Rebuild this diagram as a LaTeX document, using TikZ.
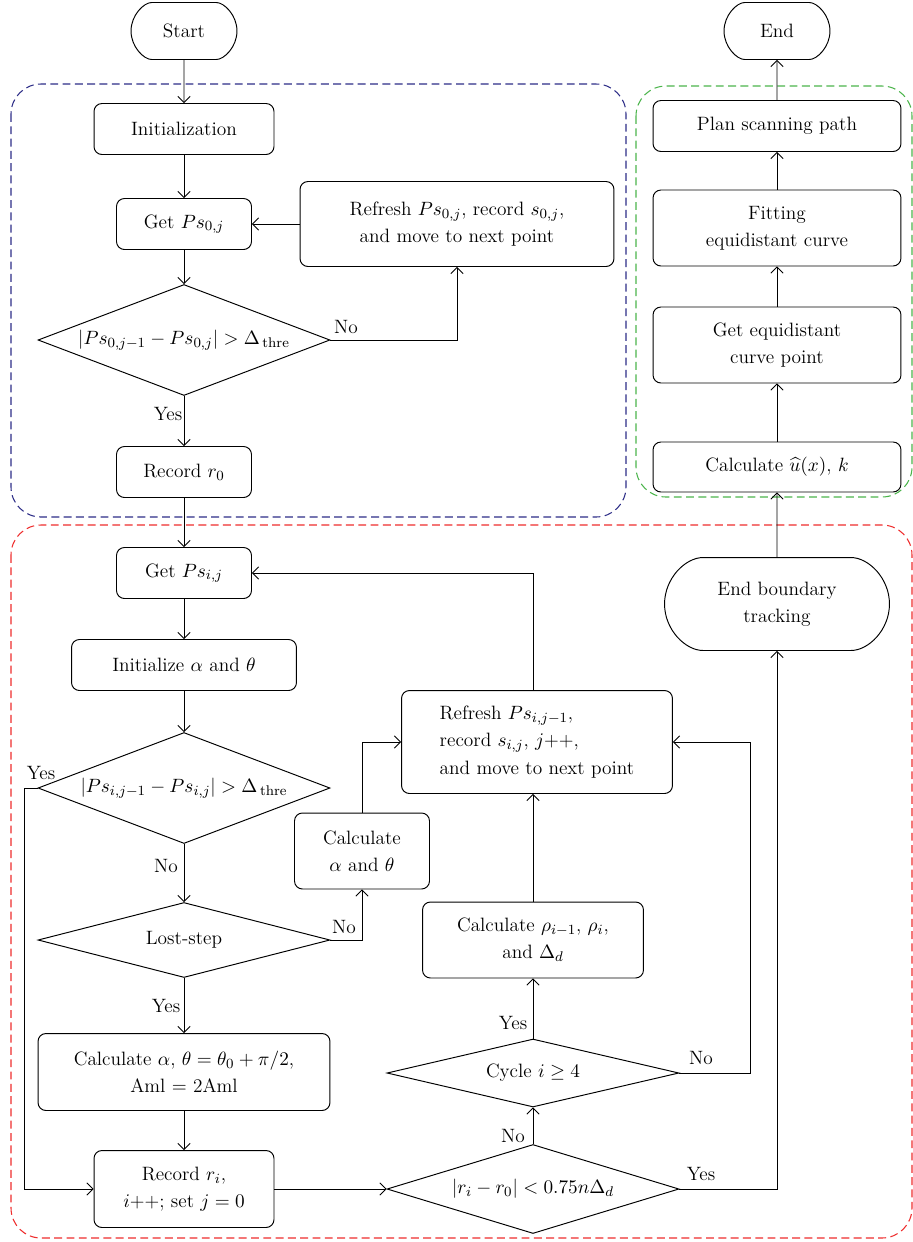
\documentclass[tikz,border=0pt]{standalone}
\usepackage{amsmath}
\usepackage{xcolor}
\usepackage{tikz}
\usetikzlibrary{positioning, shapes.geometric, shapes.misc, arrows.meta}
\definecolor{initcol}{RGB}{45,45,135}
\definecolor{trackcol}{RGB}{238,45,45}
\definecolor{pathcol}{RGB}{75,180,75}

\begin{document}
\begin{tikzpicture}[
    x=0.02cm, y=-0.02cm,
    >={Straight Barb[length=3.5pt, width=7pt]},
    %% ── Base node style ──
    box/.style={
        rectangle, draw, line width=0.55pt, rounded corners=4.5pt,
        align=center, font=\fontsize{11}{15.5}\selectfont, inner sep=2pt
    },
    %% ── Specialized styles ──
    terminal/.style={box, rounded rectangle, minimum width=2.26cm, minimum height=1.14cm},
    process/.style={box, minimum width=2.7cm, minimum height=1.02cm},
    decision/.style={box, diamond, rounded corners=0pt, inner sep=0pt,
        minimum width=5.84cm},
    greenbox/.style={box, minimum width=4.96cm},
    %% ── Arrow / label styles ──
    flow/.style={->, line width=0.5pt},
    lbl/.style={font=\fontsize{11}{13}\selectfont, inner sep=1pt},
    zone/.style={dashed, dash pattern=on 4.5pt off 2.5pt, line width=0.6pt,
        rounded corners=0.6cm},
]
\useasboundingbox (0,0) rectangle (913,1242);

% ── Dashed zones ──
\draw[zone, draw=initcol]   (11,84)  rectangle (626,517);
\draw[zone, draw=pathcol]   (636,86) rectangle (912,497);
\draw[zone, draw=trackcol]  (11,525) rectangle (912,1238);

% ── Zone 1 · Initial point ──
\node[terminal] (start) at (184,31) {Start};
\node[process, minimum width=3.6cm] (init) at (184,129) {Initialization};
\node[process] (getzero) at (184,224) {Get $Ps_{0,j}$};
\node[process, minimum width=6.28cm, minimum height=1.7cm] (refzero) at (457,224)
    {Refresh $Ps_{0,j}$, record $s_{0,j}$,\\ and move to next point};
\node[decision, shape aspect=2.63, minimum height=2.22cm] (diazero) at (184,340)
    {$|Ps_{0,j-1}-Ps_{0,j}| > \Delta_{\,\mathrm{thre}}$};
\node[process] (reczero) at (184,472) {Record $r_0$};

% ── Zone 2 · Boundary tracking ──
\node[process] (getij) at (184,573) {Get $Ps_{i,j}$};
\node[process, minimum width=4.5cm] (initang) at (184,665) {Initialize $\alpha$ and $\theta$};
\node[decision, shape aspect=2.63, minimum height=2.22cm] (diaij) at (184,788)
    {$|Ps_{i,j-1}-Ps_{i,j}| > \Delta_{\,\mathrm{thre}}$};
\node[decision, shape aspect=3.9, minimum height=1.5cm] (lost) at (184,940) {Lost-step};
\node[process, minimum height=1.52cm] (calcang) at (362,851) {Calculate\\ $\alpha$ and $\theta$};
\node[process, minimum width=5.84cm, minimum height=1.54cm] (calclost) at (184,1072)
    {Calculate $\alpha$, $\theta=\theta_0+\pi/2$,\\ Aml $=$ 2Aml};
\node[process, minimum width=3.6cm, minimum height=1.54cm] (recri) at (184,1189)
    {Record $r_i$,\\ $i$++; set $j=0$};
\node[decision, shape aspect=3.28, minimum height=1.78cm] (diaclose) at (533,1189)
    {$|r_i-r_0| < 0.75n\Delta_d$};
\node[decision, shape aspect=4.3, minimum height=1.36cm] (cycle) at (533,1073) {Cycle $i \geq 4$};
\node[process, minimum width=4.42cm, minimum height=1.52cm] (calcrho) at (533,940)
    {Calculate $\rho_{i-1}$, $\rho_i$,\\ and $\Delta_d$};
\node[process, align=left, minimum width=5.42cm, minimum height=2.06cm] (refij) at (537,742)
    {Refresh $Ps_{i,j-1}$,\\ record $s_{i,j}$, $j$++,\\ and move to next point};
\node[terminal, minimum width=4.64cm, minimum height=1.86cm] (endtrack) at (777,604)
    {End boundary\\ tracking};

% ── Zone 3 · Scanning path ──
\node[greenbox, minimum height=1.0cm] (calcu) at (777,467) {Calculate $\widehat{u}(x)$, $k$};
\node[greenbox, minimum height=1.52cm] (getequi) at (777,345) {Get equidistant\\ curve point};
\node[greenbox, minimum height=1.52cm] (fitequi) at (777,228) {Fitting\\ equidistant curve};
\node[greenbox, minimum height=1.02cm] (plan) at (777,126) {Plan scanning path};
\node[terminal] (end) at (777,31) {End};

% ── Branch labels ──
\node[lbl] (nozero)   at (346,327)  {No};
\node[lbl] (yeszero)  at (168,414)  {Yes};
\node[lbl] (yesij)    at (41,773)   {Yes};
\node[lbl] (noij)     at (166,866)  {No};
\node[lbl] (nolost)   at (344,927)  {No};
\node[lbl] (yeslost)  at (166,1006) {Yes};
\node[lbl] (yescycle) at (513,1023) {Yes};
\node[lbl] (nocycle)  at (701,1058) {No};
\node[lbl] (noclose)  at (513,1136) {No};
\node[lbl] (yesclose) at (701,1174) {Yes};

% Zone 1 flow
\draw[flow] (start)   -- (init);
\draw[flow] (init)    -- (getzero);
\draw[flow] (getzero) -- (diazero);
\draw[flow] (diazero) -- (reczero);
\draw[flow] (refzero) -- (getzero);
\draw[flow] (diazero.east) -| (refzero.south);
\draw[flow] (reczero) -- (getij);

% Zone 2 flow, left column
\draw[flow] (getij)    -- (initang);
\draw[flow] (initang)  -- (diaij);
\draw[flow] (diaij)    -- (lost);
\draw[flow] (lost)     -- (calclost);
\draw[flow] (calclost) -- (recri);
\draw[flow] (diaij.west) -- ++(-13,0) |- (recri.west);
\draw[flow] (lost.east) -| (calcang.south);
\draw[flow] (calcang.north) |- (refij.west);
\draw[flow] (recri.east) -- (diaclose.west);

% Zone 2 flow, middle column
\draw[flow] (diaclose) -- (cycle);
\draw[flow] (cycle)    -- (calcrho);
\draw[flow] (calcrho.north) -- (calcrho.north |- refij.south);
\draw[flow] (calcrho.north |- refij.north) |- (getij.east);
\draw[flow] (cycle.east) -- ++(71,0) |- (refij.east);
\draw[flow] (diaclose.east) -| (endtrack.south);

% Zone 3 flow (upwards)
\draw[flow] (endtrack) -- (calcu);
\draw[flow] (calcu)    -- (getequi);
\draw[flow] (getequi)  -- (fitequi);
\draw[flow] (fitequi)  -- (plan);
\draw[flow] (plan)     -- (end);

\end{tikzpicture}
\end{document}
